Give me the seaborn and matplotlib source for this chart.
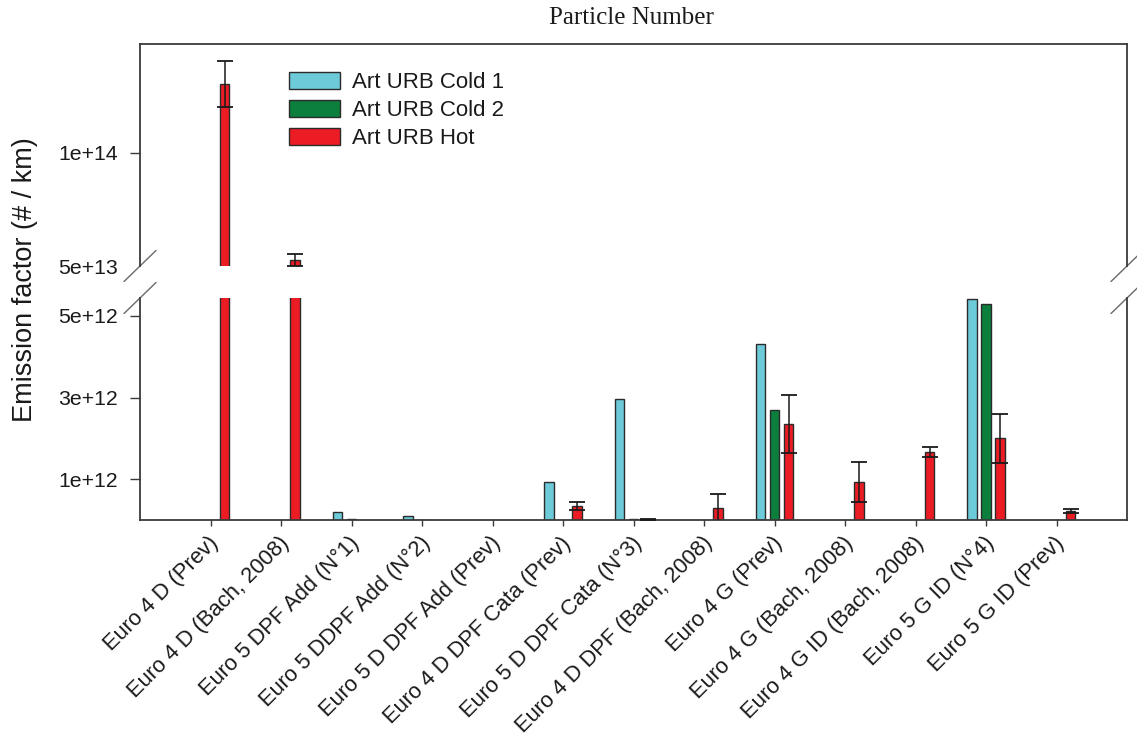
import numpy as np
import pandas as pd
import matplotlib
matplotlib.use("Agg")
import matplotlib.pyplot as plt
from matplotlib.patches import Patch
from matplotlib.transforms import ScaledTranslation
import seaborn as sns

# ---- data -------------------------------------------------------------
categories = [
    "Euro 4 D (Prev)", "Euro 4 D (Bach, 2008)", "Euro 5 DPF Add (N°1)",
    "Euro 5 DDPF Add (N°2)", "Euro 5 D DPF Add (Prev)", "Euro 4 D DPF Cata (Prev)",
    "Euro 5 D DPF Cata (N°3)", "Euro 4 D DPF (Bach, 2008)", "Euro 4 G (Prev)",
    "Euro 4 G (Bach, 2008)", "Euro 4 G ID (Bach, 2008)", "Euro 5 G ID (N°4)",
    "Euro 5 G ID (Prev)",
]
series = ["Art URB Cold 1", "Art URB Cold 2", "Art URB Hot"]

nan = np.nan
cold1 = [nan, nan, 0.20e12, 0.10e12, nan, 0.92e12, 2.96e12, nan, 4.32e12, nan, nan, 5.42e12, nan]
cold2 = [nan, nan, 0.03e12, 0.01e12, nan, nan, 0.015e12, nan, 2.70e12, nan, nan, 5.30e12, nan]
hot = [1.305e14, 5.27e13, nan, nan, nan, 0.35e12, 0.015e12, 0.29e12, 2.36e12,
       0.93e12, 1.66e12, 2.00e12, 0.22e12]
hot_err = [1.0e13, 0.25e13, nan, nan, nan, 0.10e12, 0.005e12, 0.35e12, 0.71e12,
           0.49e12, 0.12e12, 0.60e12, 0.05e12]

top_ticks = [5e13, 1e14]
top_ticklabels = ["5e+13", "1e+14"]
bot_ticks = [1e12, 3e12, 5e12]
bot_ticklabels = ["1e+12", "3e+12", "5e+12"]

palette = {"Art URB Cold 1": "#6CCAD9", "Art URB Cold 2": "#0C7F3C", "Art URB Hot": "#EC1C24"}

rows = []
for name, vals in zip(series, [cold1, cold2, hot]):
    for cat, v in zip(categories, vals):
        if not np.isnan(v):
            rows.append({"Vehicle": cat, "Series": name, "EF": v})
df = pd.DataFrame(rows)

# ---- style ------------------------------------------------------------
sns.set_style("white")
plt.rcParams["font.family"] = ["Liberation Sans", "DejaVu Sans"]
edge = "#2b2b2b"
spine_c = "#3a3a3a"
text_c = "#1a1a1a"

W, H = 1137, 740
fig = plt.figure(figsize=(W / 100, H / 100), dpi=100)
left, right = 140, 1127
ax_top = fig.add_axes([left / W, 1 - 266 / H, (right - left) / W, 222 / H])
ax_bot = fig.add_axes([left / W, 1 - 520 / H, (right - left) / W, 222 / H])

for ax in (ax_top, ax_bot):
    sns.barplot(data=df, x="Vehicle", y="EF", hue="Series", order=categories,
                hue_order=series, palette=palette, width=0.6, gap=0.33,
                errorbar=None, edgecolor=edge, linewidth=1.0, saturation=1,
                legend=False, ax=ax)
    # error bars on the hot-start series
    hot_container = ax.containers[series.index("Art URB Hot")]
    for bar in hot_container:
        xc = bar.get_x() + bar.get_width() / 2
        idx = int(round(xc))
        e = hot_err[idx]
        if not np.isnan(e):
            ax.errorbar(xc, bar.get_height(), yerr=e, fmt="none", ecolor="#1a1a1a",
                        elinewidth=1.1, capsize=5.8, capthick=1.3, zorder=5)
    ax.set_xlim(-1, len(categories))
    ax.set_xlabel("")
    ax.set_ylabel("")
    for s in ax.spines.values():
        s.set_color(spine_c)
        s.set_linewidth(1.3)

# upper panel: the very large diesel values
ax_top.set_ylim(5e13, 1.482e14)
ax_top.set_yticks(top_ticks)
ax_top.set_yticklabels(top_ticklabels)
ax_top.spines["bottom"].set_visible(False)
ax_top.tick_params(axis="x", bottom=False, labelbottom=False)

# lower panel
ax_bot.set_ylim(0, 5.44e12)
ax_bot.set_yticks(bot_ticks)
ax_bot.set_yticklabels(bot_ticklabels)
ax_bot.spines["top"].set_visible(False)

for ax in (ax_top, ax_bot):
    ax.tick_params(axis="y", left=True, direction="out", length=7, width=1.0,
                   color=spine_c, pad=9, labelsize=15.3, labelcolor=text_c)
# the break mark sits where the lowest upper-panel tick would be
ax_top.yaxis.get_major_ticks()[0].tick1line.set_visible(False)

ax_bot.set_xticks(range(len(categories)))
ax_bot.set_xticklabels(categories, rotation=45, ha="right", va="center",
                       rotation_mode="anchor", fontsize=15.8, color=text_c)
ax_bot.tick_params(axis="x", bottom=True, direction="out", length=4.5, width=1.0,
                   color=spine_c, pad=10)
shift = ScaledTranslation(5 / 100, 0, fig.dpi_scale_trans)
for lbl in ax_bot.get_xticklabels():
    lbl.set_transform(lbl.get_transform() + shift)

# axis-break marks
dx, dy = 16 / (right - left), 15.5 / 222
kw = dict(color="#6a6a6a", lw=1.0, clip_on=False)
for x0 in (0, 1):
    ax_top.plot([x0 - dx, x0 + dx], [-dy, dy], transform=ax_top.transAxes, **kw)
    ax_bot.plot([x0 - dx, x0 + dx], [1 - dy, 1 + dy], transform=ax_bot.transAxes, **kw)

# legend
handles = [Patch(facecolor=palette[s], edgecolor=edge, linewidth=1.0) for s in series]
leg = ax_top.legend(handles, series, loc="upper left", bbox_to_anchor=(0.151, 0.874),
                    frameon=False, fontsize=16, handlelength=2.3, handleheight=0.8,
                    labelspacing=0.3, handletextpad=0.55, borderpad=0, borderaxespad=0)
for t in leg.get_texts():
    t.set_color(text_c)

fig.text(25 / W, 1 - 280 / H, "Emission factor (# / km)", rotation=90,
         ha="center", va="center", fontsize=19.5, color=text_c)
fig.text(631 / W, 1 - 18 / H, "Particle Number", ha="center", va="center",
         fontsize=18, color=text_c, family=["Liberation Serif", "DejaVu Serif"])

fig.savefig("out.png", dpi=100)
